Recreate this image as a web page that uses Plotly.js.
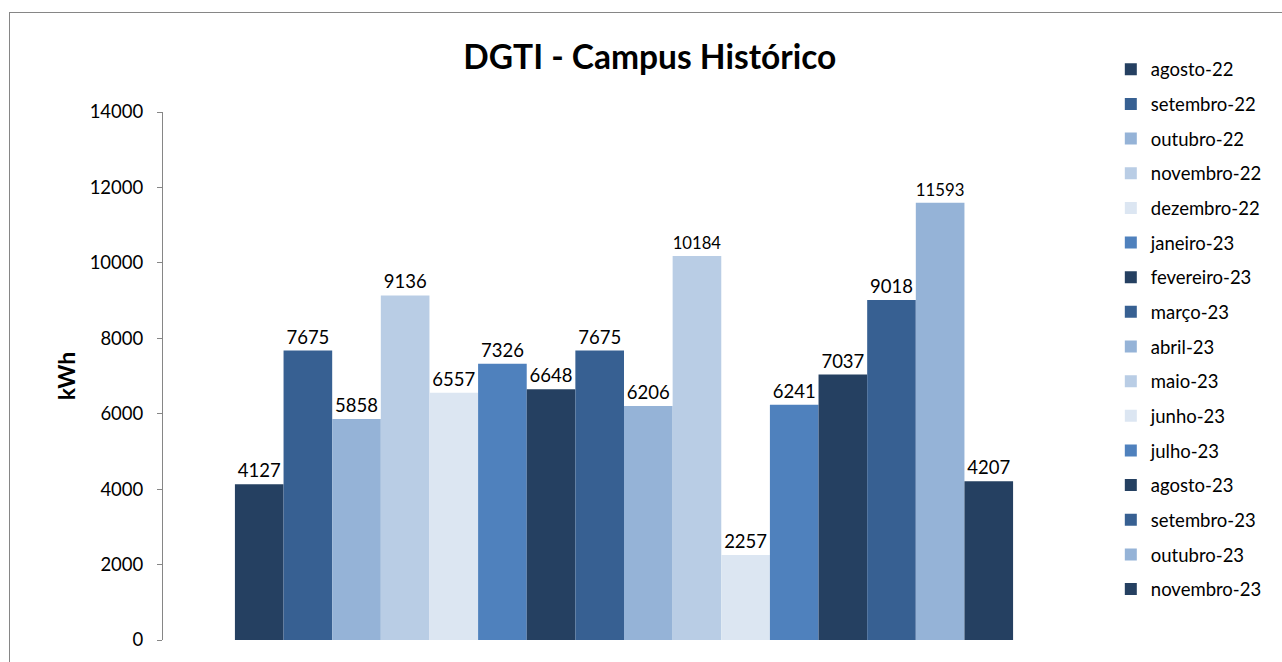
<!DOCTYPE html>
<html>
<head>
<meta charset="utf-8">
<script src="https://cdn.plot.ly/plotly-3.0.1.min.js"></script>
<style>
html,body{margin:0;padding:0;width:1282px;height:662px;overflow:hidden;background:#fff;}
#frame{position:absolute;left:9px;top:12px;width:1400px;height:800px;border:1px solid #868686;box-sizing:border-box;pointer-events:none;z-index:5;}
#chart{position:absolute;left:0;top:0;width:1282px;height:662px;}
</style>
</head>
<body>
<div id="chart"></div>
<div id="frame"></div>
<script>
const months = ["agosto-22","setembro-22","outubro-22","novembro-22","dezembro-22","janeiro-23","fevereiro-23","março-23","abril-23","maio-23","junho-23","julho-23","agosto-23","setembro-23","outubro-23","novembro-23"];
const values = [4127,7675,5858,9136,6557,7326,6648,7675,6206,10184,2257,6241,7037,9018,11593,4207];
const colors = ["#254061","#376092","#95B3D7","#B9CDE5","#DCE6F2","#4F81BD","#254061","#376092","#95B3D7","#B9CDE5","#DCE6F2","#4F81BD","#254061","#376092","#95B3D7","#254061"];
const category = ["Campus Histórico"];
const yTicks = [0,2000,4000,6000,8000,10000,12000,14000];

const FONT = "Lato, 'Open Sans', sans-serif";
const traces = months.map((m,i)=>({
  type:'bar',
  name:m,
  x:category,
  y:[values[i]],
  marker:{color:colors[i],line:{width:0}},
  text:[String(values[i])],
  textposition:'outside',
  textfont:{family:FONT,size:18.5,color:'#000'},
  cliponaxis:false,
  legendgroup:'g'+i,
  hoverinfo:'name+y'
}));

const layout = {
  width:1282,height:662,
  margin:{l:163,r:197,t:112,b:22,pad:0},
  paper_bgcolor:'#fff',plot_bgcolor:'#fff',
  font:{family:FONT,size:18,color:'#000'},
  title:{text:'<b>DGTI - Campus Histórico</b>',font:{family:FONT,size:33.5,color:'#000'},x:0.528,xref:'paper',xanchor:'center',y:0.913,yanchor:'middle'},
  barmode:'group',
  bargap:0.156,
  bargroupgap:0,
  showlegend:true,
  legend:{x:1.028,xanchor:'left',y:1.116,yanchor:'top',bgcolor:'rgba(0,0,0,0)',font:{family:FONT,size:18.5,color:'#000'},tracegroupgap:7.6,traceorder:'grouped',maxheight:700},
  xaxis:{type:'category',range:[-0.5,0.5],showticklabels:false,showline:false,ticks:'',showgrid:false,zeroline:false,fixedrange:true},
  yaxis:{range:[0,14000],tickvals:yTicks,ticktext:yTicks.map(String),showline:true,linecolor:'#868686',linewidth:1,ticks:'outside',ticklen:5,tickcolor:'#868686',ticklabelstandoff:10,showgrid:false,zeroline:false,tickfont:{family:FONT,size:18.5,color:'#000'},
    title:{text:'<b>kWh</b>',font:{family:FONT,size:23,color:'#000'},standoff:7},fixedrange:true}
};

Plotly.newPlot('chart',traces,layout,{displayModeBar:false,staticPlot:true});
</script>
</body>
</html>
